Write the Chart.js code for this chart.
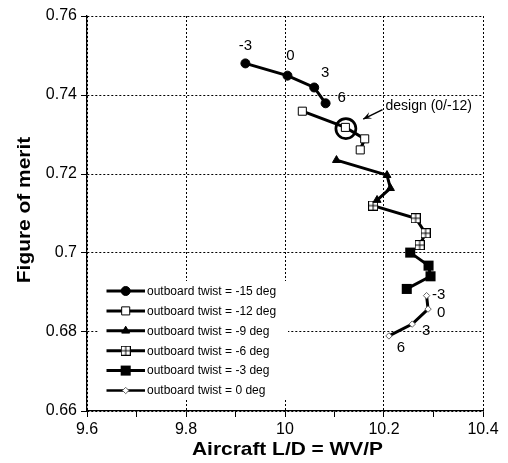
<!DOCTYPE html>
<html>
<head>
<meta charset="utf-8">
<script src="https://cdn.jsdelivr.net/npm/chart.js"></script>
<style>
  body { margin: 0; background: #fff; }
  canvas { display: block; }
</style>
</head>
<body>
<canvas id="fom" width="508" height="463"></canvas>
<script>
// outboard twist series, 4 points each (inboard twist -3, 0, 3, 6)
var twistNames = ["outboard twist = -15 deg", "outboard twist = -12 deg", "outboard twist = -9 deg",
                  "outboard twist = -6 deg", "outboard twist = -3 deg", "outboard twist = 0 deg"];
var pointTags = ["-3", "0", "3", "6"];

var ldM15 = [9.920, 10.005, 10.059, 10.082];
var fomM15 = [0.7480, 0.7449, 0.7419, 0.7379];
var ldM12 = [10.035, 10.122, 10.161, 10.152];
var fomM12 = [0.7359, 0.7318, 0.7289, 0.7261];
var ldM9 = [10.104, 10.206, 10.213, 10.186];
var fomM9 = [0.7235, 0.7197, 0.7164, 0.7134];
var ldM6 = [10.178, 10.264, 10.284, 10.272];
var fomM6 = [0.7120, 0.7088, 0.7050, 0.7020];
var ldM3 = [10.253, 10.290, 10.294, 10.246];
var fomM3 = [0.7001, 0.6968, 0.6941, 0.6909];
var ld0 = [10.286, 10.289, 10.257, 10.210];
var fom0 = [0.6892, 0.6858, 0.6820, 0.6790];

var designLD = [10.123];
var designFOM = [0.7315];
var designText = "design (0/-12)";
var arrowFrom = [10.197, 0.7363];
var arrowTo = [10.158, 0.7339];

var xTitle = "Aircraft L/D = WV/P";
var yTitle = "Figure of merit";

var FONT = "'Liberation Sans', Arial, sans-serif";

// square with a cross in it
var crossBox = document.createElement("canvas");
crossBox.width = 10; crossBox.height = 10;
(function() {
  var c = crossBox.getContext("2d");
  c.fillStyle = "#fff";
  c.fillRect(0, 0, 10, 10);
  c.strokeStyle = "#000";
  c.lineWidth = 1;
  c.strokeRect(0.5, 0.5, 9, 9);
  c.beginPath();
  c.moveTo(5, 0.5); c.lineTo(5, 9.5);
  c.moveTo(0.5, 5); c.lineTo(9.5, 5);
  c.stroke();
})();

function pts(xs, ys) {
  var out = [];
  for (var i = 0; i < xs.length; i++) out.push({x: xs[i], y: ys[i]});
  return out;
}

var markers = [
  {pointStyle: "circle", radius: 4.5, fill: "#000", stroke: "#000", bw: 1},
  {pointStyle: "rect", radius: 5.7, fill: "#fff", stroke: "#000", bw: 1},
  {pointStyle: "triangle", radius: 4.6, fill: "#000", stroke: "#000", bw: 1},
  {pointStyle: crossBox, radius: 5, fill: "#fff", stroke: "#000", bw: 1},
  {pointStyle: "rect", radius: 7.1, fill: "#000", stroke: "#000", bw: 0},
  {pointStyle: "rectRot", radius: 3.2, fill: "#fff", stroke: "#666", bw: 1}
];

var seriesX = [ldM15, ldM12, ldM9, ldM6, ldM3, ld0];
var seriesY = [fomM15, fomM12, fomM9, fomM6, fomM3, fom0];

var datasets = [];
for (var s = 0; s < 6; s++) {
  var m = markers[s];
  datasets.push({
    label: twistNames[s],
    data: pts(seriesX[s], seriesY[s]),
    showLine: true,
    borderColor: "#000",
    borderWidth: 3,
    pointStyle: m.pointStyle,
    pointRadius: m.radius,
    pointBackgroundColor: m.fill,
    pointBorderColor: m.stroke,
    pointBorderWidth: m.bw
  });
}
datasets.push({
  label: "design",
  data: pts(designLD, designFOM),
  showLine: false,
  pointStyle: "circle",
  pointRadius: 10,
  pointBackgroundColor: "rgba(0,0,0,0)",
  pointBorderColor: "#000",
  pointBorderWidth: 2.7
});

// labels, arrow, legend, axis titles
var extras = {
  id: "extras",
  afterDatasetsDraw: function(chart) {
    var ctx = chart.ctx;
    var xs = chart.scales.x, ys = chart.scales.y;
    ctx.save();
    ctx.fillStyle = "#000";
    ctx.font = "15px " + FONT;
    ctx.textAlign = "center";
    ctx.textBaseline = "middle";

    var offA = [[0, -18], [3, -20], [11, -15], [16, -5]];
    var offB = [[12, -1], [13, 4], [14, 7], [12, 12]];
    for (var i = 0; i < 4; i++) {
      var px = xs.getPixelForValue(ldM15[i]), py = ys.getPixelForValue(fomM15[i]);
      ctx.fillText(pointTags[i], px + offA[i][0], py + offA[i][1]);
      px = xs.getPixelForValue(ld0[i]); py = ys.getPixelForValue(fom0[i]);
      ctx.fillText(pointTags[i], px + offB[i][0], py + offB[i][1]);
    }

    // arrow to design point
    var ax = xs.getPixelForValue(arrowFrom[0]), ay = ys.getPixelForValue(arrowFrom[1]);
    var bx = xs.getPixelForValue(arrowTo[0]), by = ys.getPixelForValue(arrowTo[1]);
    ctx.strokeStyle = "#000";
    ctx.lineWidth = 1.5;
    ctx.beginPath(); ctx.moveTo(ax, ay); ctx.lineTo(bx, by); ctx.stroke();
    var ang = Math.atan2(by - ay, bx - ax);
    ctx.beginPath();
    ctx.moveTo(bx, by);
    ctx.lineTo(bx - 9 * Math.cos(ang - 0.4), by - 9 * Math.sin(ang - 0.4));
    ctx.lineTo(bx - 5 * Math.cos(ang), by - 5 * Math.sin(ang));
    ctx.lineTo(bx - 9 * Math.cos(ang + 0.4), by - 9 * Math.sin(ang + 0.4));
    ctx.closePath();
    ctx.fill();
    ctx.font = "14px " + FONT;
    ctx.textAlign = "left";
    ctx.fillText(designText, ax + 3, ay - 3);

    // legend box
    ctx.fillStyle = "#fff";
    ctx.fillRect(98, 281, 190, 119);
    ctx.font = "12px " + FONT;
    ctx.textAlign = "left";
    for (var k = 0; k < 6; k++) {
      var ly = 291 + k * 19.9;
      ctx.strokeStyle = "#000";
      ctx.lineWidth = k === 5 ? 2.5 : 3;
      ctx.beginPath(); ctx.moveTo(106.5, ly); ctx.lineTo(145, ly); ctx.stroke();
      var mk = markers[k];
      ctx.fillStyle = mk.fill;
      ctx.strokeStyle = mk.stroke;
      ctx.lineWidth = mk.bw;
      Chart.helpers.drawPoint(ctx, {pointStyle: mk.pointStyle, radius: mk.radius, borderWidth: mk.bw, rotation: 0}, 125.7, ly);
      ctx.fillStyle = "#000";
      ctx.fillText(twistNames[k], 147, ly + 0.5);
    }

    // axis titles
    ctx.font = "bold 19px " + FONT;
    ctx.textAlign = "center";
    ctx.textBaseline = "alphabetic";
    ctx.save();
    ctx.translate(287.5, 455);
    ctx.scale(1.1, 1);
    ctx.fillText(xTitle, 0, 0);
    ctx.restore();
    ctx.save();
    ctx.translate(30, 210);
    ctx.rotate(-Math.PI / 2);
    ctx.scale(1.1, 1);
    ctx.fillText(yTitle, 0, 0);
    ctx.restore();
    ctx.restore();
  }
};

Chart.defaults.font.family = FONT;
Chart.defaults.color = "#000";

new Chart(document.getElementById("fom").getContext("2d"), {
  type: "scatter",
  data: {datasets: datasets},
  plugins: [extras],
  options: {
    responsive: false,
    animation: false,
    layout: {padding: {top: 16, right: 25, left: 0, bottom: 0}},
    plugins: {legend: {display: false}, tooltip: {enabled: false}},
    elements: {line: {tension: 0}},
    scales: {
      x: {
        type: "linear",
        min: 9.6, max: 10.4,
        afterFit: function(sc) { sc.height = 52; },
        border: {color: "#000", width: 1.3, dash: [2, 2]},
        grid: {
          color: function(c) {
            return Math.round(c.tick.value * 10) % 2 === 0 ? "#000" : "rgba(0,0,0,0)";
          },
          tickColor: "#000",
          tickBorderDash: [],
          tickLength: 6,
          lineWidth: 1
        },
        ticks: {
          stepSize: 0.1,
          autoSkip: false,
          maxRotation: 0,
          padding: 3,
          font: {size: 16},
          callback: function(v) {
            return Math.round(v * 10) % 2 === 0 ? String(Number(v.toFixed(1))) : "";
          }
        }
      },
      y: {
        type: "linear",
        min: 0.66, max: 0.76,
        afterFit: function(sc) { sc.width = 87; },
        border: {color: "#000", width: 1.3, dash: [2, 2]},
        grid: {
          color: "#000",
          tickColor: "#000",
          tickBorderDash: [],
          tickLength: 6,
          lineWidth: 1
        },
        ticks: {
          stepSize: 0.02,
          padding: 4,
          font: {size: 16},
          callback: function(v) { return String(Number(v.toFixed(2))); }
        }
      }
    }
  }
});
</script>
</body>
</html>
